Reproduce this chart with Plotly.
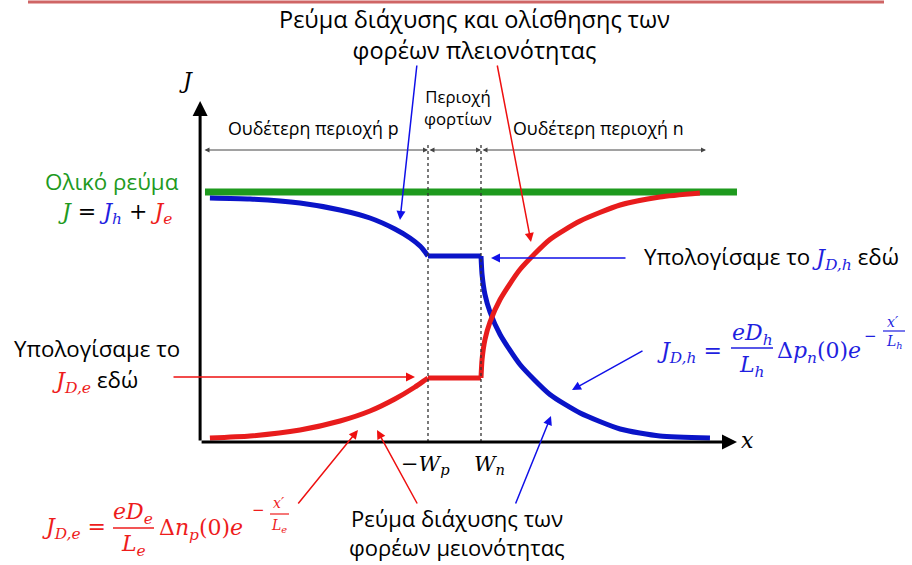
import plotly.graph_objects as go

W, H = 912, 565

# Position x in units of the depletion edges (-Wp = -1, Wn = +1); current density J normalised to the total
x_wp, x_wn = -1.0, 1.0
J_total = 1.0
x_start, x_end = -9.415, 10.66

# electron current (red) in the neutral p region, depletion region and neutral n region
red_p_x = [-9.23, -7.72, -5.83, -4.32, -3.19, -2.25, -1.49, -1.11, -1.0]
red_p_j = [0.016, 0.024, 0.048, 0.084, 0.124, 0.172, 0.22, 0.248, 0.256]
red_n_x = [1.0, 1.04, 1.15, 1.34, 1.72, 2.47, 3.6, 4.74, 6.25, 7.75, 9.26]
red_n_j = [0.256, 0.33, 0.41, 0.48, 0.57, 0.69, 0.81, 0.884, 0.948, 0.98, 0.996]

# hole current (blue)
blue_p_x = [-9.23, -7.72, -5.83, -4.32, -3.19, -2.25, -1.68, -1.30, -1.11, -1.0]
blue_p_j = [0.976, 0.972, 0.956, 0.928, 0.896, 0.852, 0.816, 0.784, 0.76, 0.744]
blue_n_x = [1.0, 1.04, 1.15, 1.34, 1.72, 2.47, 3.6, 4.74, 6.25, 7.75, 9.64]
blue_n_j = [0.744, 0.67, 0.59, 0.52, 0.43, 0.31, 0.19, 0.116, 0.052, 0.024, 0.016]

GREEN, BLUE, RED = "#1e9a1e", "#0a14c8", "#e81c1c"
BLUE_T, RED_T = "#1f1fe0", "#ee1c1c"
SANS = "Open Sans"
SERIF = "DejaVu Serif"

fig = go.Figure()

# total current
fig.add_trace(go.Scatter(x=[x_start, x_end], y=[J_total, J_total], mode="lines",
                         line=dict(color=GREEN, width=7)))

def curve(xs, ys, color, shape="spline"):
    fig.add_trace(go.Scatter(x=xs, y=ys, mode="lines",
                             line=dict(color=color, width=5, shape=shape, smoothing=0.6)))

curve(blue_p_x, blue_p_j, BLUE)
curve([x_wp, x_wn], [blue_p_j[-1], blue_n_j[0]], BLUE, "linear")
curve(blue_n_x, blue_n_j, BLUE)
curve(red_p_x, red_p_j, RED)
curve([x_wp, x_wn], [red_p_j[-1], red_n_j[0]], RED, "linear")
curve(red_n_x, red_n_j, RED)

# depletion edges
for xv in (x_wp, x_wn):
    fig.add_trace(go.Scatter(x=[xv, xv], y=[0, 1.196], mode="lines",
                             line=dict(color="#333333", width=1.3, dash="dot")))

ann = []
shapes = []

def P(x, y):
    return x / W, 1 - y / H

def text(s, x, y, size, color="black", font=SANS, xanchor="center"):
    px, py = P(x, y)
    ann.append(dict(text=s, x=px, y=py, xref="paper", yref="paper", showarrow=False,
                    xanchor=xanchor, yanchor="middle",
                    font=dict(family=font, size=size, color=color)))

def arrow(tail, tip, color, width=1.5):
    px, py = P(*tip)
    ann.append(dict(text="", x=px, y=py, xref="paper", yref="paper",
                    ax=tail[0] - tip[0], ay=tail[1] - tip[1], axref="pixel", ayref="pixel",
                    showarrow=True, arrowhead=2, arrowsize=1.2, arrowwidth=width,
                    arrowcolor=color, standoff=0))

def hline(x0, x1, y, color, width=1.5):
    a0, b0 = P(x0, y)
    a1, _ = P(x1, y)
    shapes.append(dict(type="line", xref="paper", yref="paper", x0=a0, x1=a1, y0=b0, y1=b0,
                       line=dict(color=color, width=width)))

# axes with arrowheads (data coordinates)
ann.append(dict(x=10.66, y=0, ax=-9.6, ay=0, xref="x", yref="y", axref="x", ayref="y",
                text="", showarrow=True, arrowhead=2, arrowsize=1, arrowwidth=3,
                arrowcolor="black", standoff=0))
ann.append(dict(x=-9.6, y=1.364, ax=-9.6, ay=0, xref="x", yref="y", axref="x", ayref="y",
                text="", showarrow=True, arrowhead=2, arrowsize=1, arrowwidth=3,
                arrowcolor="black", standoff=0))

# region extents
J_reg = 1.168
for a, b in ((-9.49, x_wp), (x_wp, x_wn), (x_wn, 9.49)):
    ann.append(dict(x=b, y=J_reg, ax=a, ay=J_reg, xref="x", yref="y", axref="x", ayref="y",
                    text="", showarrow=True, arrowhead=2, startarrowhead=2,
                    arrowside="end+start", arrowsize=1, arrowwidth=1,
                    arrowcolor="#444444", standoff=0, startstandoff=0))

# top rule
hline(28, 884, 2, "#cf6565", 3)

# labels
text("Ρεύμα διάχυσης και ολίσθησης των<br>φορέων πλειονότητας", 474, 35, 23.5)
text("Περιοχή<br>φορτίων", 458, 108, 16.8)
text("Ουδέτερη περιοχή p", 313, 128, 17.8)
text("Ουδέτερη περιοχή n", 598, 128, 17.8)
text("Ολικό ρεύμα", 112, 181, 22.4, GREEN)
text("<span style='color:%s'><i>J</i></span> = <span style='color:%s'><i>J<sub>h</sub></i></span>"
     " + <span style='color:%s'><i>J<sub>e</sub></i></span>" % (GREEN, BLUE_T, RED_T),
     115, 213, 22, "black", SERIF)
text("Υπολογίσαμε το <span style='font-family:%s;color:%s'><i>J<sub>D,h</sub></i></span> εδώ"
     % (SERIF, BLUE_T), 642, 257, 22.3, xanchor="left")
text("Υπολογίσαμε το", 97, 348, 22.3)
text("<span style='font-family:%s;color:%s'><i>J<sub>D,e</sub></i></span> εδώ"
     % (SERIF, RED_T), 95, 380, 22.3)
text("Ρεύμα διάχυσης των", 457, 518, 22)
text("φορέων μειονότητας", 457, 547, 22)
text("<i>J</i>", 186, 80, 22, font=SERIF)
text("<i>x</i>", 747, 440, 22, font=SERIF)
text("−<i>W<sub>p</sub></i>", 425, 465, 21, font=SERIF)
text("<i>W<sub>n</sub></i>", 489, 465, 21, font=SERIF)

# hole diffusion current formula
text("<i>J<sub>D,h</sub></i> =", 655, 352, 22, BLUE_T, SERIF, "left")
text("<i>eD<sub>h</sub></i>", 752, 334, 22, BLUE_T, SERIF)
hline(731, 773, 348, BLUE_T)
text("<i>L<sub>h</sub></i>", 752, 366, 22, BLUE_T, SERIF)
text("Δ<i>p<sub>n</sub></i>(0)<i>e</i>", 775, 352, 22, BLUE_T, SERIF, "left")
text("−", 870, 336, 15, BLUE_T, SERIF)
text("<i>x′</i>", 893, 322, 14, BLUE_T, SERIF)
hline(883, 905, 331, BLUE_T, 1.2)
text("<i>L<sub>h</sub></i>", 894, 342, 14, BLUE_T, SERIF)

# electron diffusion current formula
text("<i>J<sub>D,e</sub></i> =", 40, 528, 22, RED_T, SERIF, "left")
text("<i>eD<sub>e</sub></i>", 133, 513, 22, RED_T, SERIF)
hline(113, 154, 528, RED_T)
text("<i>L<sub>e</sub></i>", 133, 545, 22, RED_T, SERIF)
text("Δ<i>n<sub>p</sub></i>(0)<i>e</i>", 157, 529, 22, RED_T, SERIF, "left")
text("−", 258, 510, 15, RED_T, SERIF)
text("<i>x′</i>", 279, 503, 14, RED_T, SERIF)
hline(270, 289, 514, RED_T, 1.2)
text("<i>L<sub>e</sub></i>", 279, 526, 14, RED_T, SERIF)

# pointer arrows
arrow((417, 64), (400, 220), "#1010e8")
arrow((497, 64), (531, 242), "#ee1010")
arrow((627, 258), (491, 258), "#1010e8")
arrow((172, 377), (415, 377), "#ee1010")
arrow((644, 350), (572, 390), "#1010e8")
arrow((297, 505), (358, 430), "#ee1010")
arrow((418, 505), (377, 430), "#ee1010")
arrow((515, 505), (551, 416), "#1010e8")

fig.update_layout(
    width=W, height=H, margin=dict(l=0, r=0, t=0, b=0, pad=0),
    paper_bgcolor="white", plot_bgcolor="white", showlegend=False,
    xaxis=dict(range=[-454.5 / 26.5, 457.5 / 26.5], visible=False, fixedrange=True),
    yaxis=dict(range=[-123 / 250, 442 / 250], visible=False, fixedrange=True),
    annotations=ann, shapes=shapes,
)

fig.write_html("out.html")
